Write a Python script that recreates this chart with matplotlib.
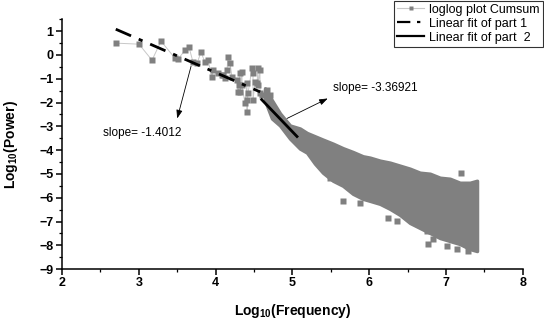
import numpy as np
import matplotlib
matplotlib.use('Agg')
import matplotlib.pyplot as plt
from matplotlib.lines import Line2D

plt.rcParams['font.family'] = ['Liberation Sans', 'DejaVu Sans']
plt.rcParams['mathtext.fontset'] = 'custom'
plt.rcParams['mathtext.rm'] = 'Liberation Sans:bold'
plt.rcParams['mathtext.default'] = 'rm'

# sparse low-frequency points of the cumsum loglog curve
sparse_logf = [2.703, 3.003, 3.172, 3.289, 3.471, 3.510, 3.602, 3.654, 3.706, 3.758,
               3.810, 3.862, 3.901, 3.953, 3.966, 4.031, 4.083, 4.096, 4.122, 4.148,
               4.161, 4.188, 4.214, 4.279, 4.292, 4.305, 4.318, 4.318, 4.344, 4.344,
               4.383, 4.409, 4.409, 4.409, 4.422, 4.474, 4.487, 4.487, 4.513, 4.539,
               4.552, 4.552, 4.578, 4.578, 4.604, 4.669, 4.669, 4.708]
sparse_logp = [0.494, 0.451, -0.224, 0.578, -0.139, -0.181, 0.198, 0.325, -0.308, -0.350,
               0.114, -0.308, -0.224, -0.941, -0.646, -0.772, -0.857, -0.857, -0.983, -0.646,
               -0.097, -0.350, -0.941, -1.068, -1.574, -1.278, -0.772, -1.574, -0.730, -1.278,
               -2.038, -1.194, -1.911, -2.418, -1.616, -0.561, -0.772, -1.911, -1.152, -1.194,
               -0.561, -1.278, -0.646, -1.616, -1.700, -1.489, -1.911, -1.700]

# envelope of the dense high-frequency cloud
cloud_logf = [4.643, 4.734, 4.839, 4.969, 5.099, 5.190, 5.294, 5.398, 5.529, 5.659,
              5.789, 5.919, 6.010, 6.141, 6.271, 6.401, 6.531, 6.661, 6.792, 6.922,
              7.052, 7.182, 7.313, 7.404]
cloud_upper = [-1.405, -1.911, -2.460, -2.966, -3.093, -3.280, -3.420, -3.560, -3.730, -3.920,
               -4.080, -4.260, -4.316, -4.443, -4.527, -4.654, -4.781, -4.949, -4.992, -5.160,
               -5.203, -5.371, -5.371, -5.287]
cloud_lower = [-1.911, -2.671, -2.966, -3.515, -3.937, -4.105, -4.570, -4.949, -5.287, -5.498,
               -5.835, -6.046, -6.131, -6.257, -6.468, -6.722, -7.059, -7.270, -7.481, -7.692,
               -7.819, -7.945, -8.156, -8.241]

# isolated points around the cloud
outlier_logf = [5.490, 5.659, 5.880, 6.245, 6.362, 6.753, 6.766, 6.831, 7.013, 7.143, 7.286, 7.195]
outlier_logp = [-5.160, -6.131, -6.215, -6.848, -6.975, -7.397, -7.945, -7.734, -8.030, -8.156, -8.241, -4.949]

# linear fits: slope, intercept, x range
fit1_slope, fit1_intercept, fit1_range = -1.4012, 4.863, [2.70, 4.58]
fit2_slope, fit2_intercept, fit2_range = -3.36921, 13.62, [4.60, 5.06]

GRAY = '#808080'
LIGHT = '#c8c8c8'

fig = plt.figure(figsize=(5.44, 3.2), dpi=100)
ax = fig.add_axes([0.114, 0.159, 0.847, 0.781])

# data
ax.plot(sparse_logf, sparse_logp, '-', color=LIGHT, lw=0.7, zorder=2)
ax.fill_between(cloud_logf, cloud_lower, cloud_upper, facecolor=GRAY,
                edgecolor=GRAY, lw=2.5, zorder=3)
ax.plot(sparse_logf, sparse_logp, 's', color=GRAY, ms=4.5, mec='none', zorder=4)
ax.plot(outlier_logf, outlier_logp, 's', color=GRAY, ms=4.5, mec='none', zorder=4)

# fits
x1 = np.array(fit1_range)
ax.plot(x1, fit1_slope * x1 + fit1_intercept, color='black', lw=2,
        ls=(0, (6, 3, 1.5, 3)), zorder=5)
x2 = np.array(fit2_range)
ax.plot(x2, fit2_slope * x2 + fit2_intercept, color='black', lw=2, zorder=5)

# annotations
arrow = dict(arrowstyle='-|>,head_length=0.5,head_width=0.18', color='black', lw=0.6,
             shrinkA=0, shrinkB=0)
ax.annotate('', xy=(3.50, -2.67), xytext=(3.68, -0.48), arrowprops=arrow)
ax.text(2.53, -3.30, 'slope= -1.4012', fontsize=8.5, va='center', ha='left')
ax.annotate('', xy=(5.46, -1.83), xytext=(4.93, -2.67), arrowprops=arrow)
ax.text(5.53, -1.40, 'slope= -3.36921', fontsize=8.5, va='center', ha='left')

# axes
ax.set_xlim(2, 8)
ax.set_ylim(-9, 1.5)
ax.set_xticks(np.arange(2, 9, 1))
ax.set_xticks(np.arange(2.5, 8, 1), minor=True)
ax.set_yticks(np.arange(-9, 2, 1))
ax.set_yticks(np.arange(-8.5, 1.6, 1), minor=True)
ax.spines['top'].set_visible(False)
ax.spines['right'].set_visible(False)
for s in ('left', 'bottom'):
    ax.spines[s].set_linewidth(1.1)
ax.tick_params(which='major', direction='out', length=4, width=1.1, labelsize=9, pad=2)
ax.tick_params(which='minor', direction='out', length=2.5, width=0.9)
for lab in ax.get_xticklabels() + ax.get_yticklabels():
    lab.set_fontweight('bold')

ax.set_xlabel('Log$_{10}$(Frequency)', fontsize=10, fontweight='bold', labelpad=9)
ax.set_ylabel('Log$_{10}$(Power)', fontsize=10, fontweight='bold', labelpad=14)

handles = [
    Line2D([], [], color=LIGHT, lw=0.8, marker='s', ms=3, mfc=GRAY, mec='none'),
    Line2D([], [], color='black', lw=1.6, ls=(0, (6, 3, 1.5, 3))),
    Line2D([], [], color='black', lw=1.6),
]
labels = ['loglog plot Cumsum', 'Linear fit of part 1', 'Linear fit of part  2']
leg = fig.legend(handles, labels, loc='upper right', bbox_to_anchor=(0.998, 0.998),
                 fontsize=9, frameon=True, fancybox=False, borderpad=0.25,
                 labelspacing=0.15, handlelength=2.2, handletextpad=0.4,
                 borderaxespad=0)
leg.get_frame().set_edgecolor('black')
leg.get_frame().set_linewidth(0.8)

fig.savefig('out.png', dpi=100)
